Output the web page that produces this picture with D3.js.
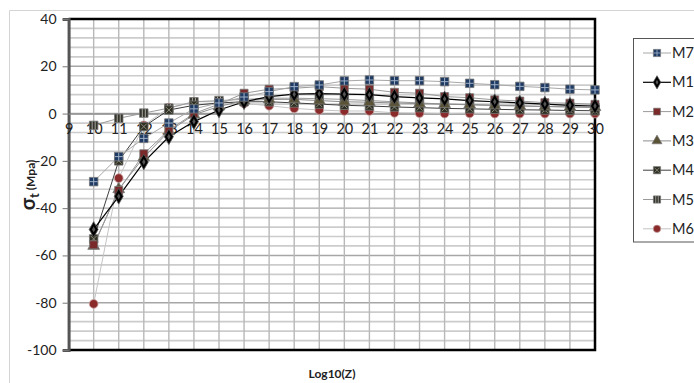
<!DOCTYPE html>
<html>
<head>
<meta charset="utf-8">
<script src="https://cdn.jsdelivr.net/npm/d3@7"></script>
<style>
  html, body { margin: 0; padding: 0; background: #fff; }
  svg { display: block; }
</style>
</head>
<body>
<svg id="chart" width="694" height="383"></svg>
<script>
// Stress σt versus Log10(Z) for seven mixes
const xValues = [10,11,12,13,14,15,16,17,18,19,20,21,22,23,24,25,26,27,28,29,30];
const xTicks = d3.range(9, 31);
const yTicks = [40, 20, 0, -20, -40, -60, -80, -100];

const M7 = [-28.8,-18.2,-10.5,-4,2,4.5,7,9.3,11.4,12.1,13.8,14.2,13.9,13.9,13.5,12.8,12.2,11.5,11,10.3,10];
const M1 = [-49,-35,-20.5,-9.8,-3.4,1.5,5,7.2,8.2,8.4,8.2,8,7.2,6.6,6.2,5.5,5,4.5,4,3.5,3.2];
const M2 = [-55.5,-32.5,-17,-7,0,4,8.6,10.3,10.7,11.4,10.7,10.3,9,8.6,7.2,6.7,5.8,5.3,4.6,4.4,3.9];
const M3 = [-56,-32,-18.5,-7.5,-0.5,3,5.5,6,6,5.5,5,4.8,4.5,4.2,4,3.8,3.5,3.3,3,2.8,2.7];
const M4 = [-53,-20,-5.5,1.5,3.5,4.5,5,5,4.5,4,3.5,3.2,2.8,2.5,2.2,2,1.8,1.6,1.5,1.3,1.2];
const M5 = [-5,-2,0.2,2.3,5,5.5,6,6.5,6.5,6.3,6,5.5,5,4.5,4,3.7,3.4,3.2,3,2.8,2.5];
const M6 = [-80.5,-27.3,-5,2.5,5,5,4.3,3.3,2.2,1.5,1.1,1.1,0.3,0.2,0,0.1,0,0,0,0,0];

const seriesNames = ["M7","M1","M2","M3","M4","M5","M6"];
const seriesValues = [M7, M1, M2, M3, M4, M5, M6];

const styles = {
  M7: { marker: "squareCross", fill: "#1f3b63", line: "#a8a8a8", lw: 1 },
  M1: { marker: "diamond",     fill: "#000000", line: "#000000", lw: 1.2 },
  M2: { marker: "square",      fill: "#7a2a2a", line: "#9a9a9a", lw: 1 },
  M3: { marker: "triangle",    fill: "#5b5336", line: "#8c8c8c", lw: 1 },
  M4: { marker: "squareX",     fill: "#2f2f24", line: "#3f3f3f", lw: 1 },
  M5: { marker: "squareBars",  fill: "#34342c", line: "#9a9a9a", lw: 1 },
  M6: { marker: "circle",      fill: "#8a2a2a", line: "#c4c4c4", lw: 1 }
};

const svg = d3.select("#chart");
const font = "Lato, 'Open Sans', sans-serif";

const L = 68.6, R = 595, T = 19, B = 350;
const x = d3.scaleLinear().domain([9, 30]).range([L, R]);
const y = d3.scaleLinear().domain([-100, 40]).range([B, T]);

// outer chart frame
svg.append("path")
  .attr("d", `M9.5,383 L9.5,10.5 L694,10.5`)
  .attr("fill", "none").attr("stroke", "#d4d4d4").attr("stroke-width", 1);

const plot = svg.append("g");

// minor horizontal grid every 4 units
const minor = d3.range(-100, 40.01, 4).filter(v => v % 20 !== 0);
plot.selectAll(".hminor").data(minor).join("line")
  .attr("x1", L).attr("x2", R)
  .attr("y1", d => y(d)).attr("y2", d => y(d))
  .attr("stroke", "#cccccc").attr("stroke-width", 1.7);

// major horizontal grid
plot.selectAll(".hmajor").data(yTicks).join("line")
  .attr("x1", L).attr("x2", R)
  .attr("y1", d => y(d)).attr("y2", d => y(d))
  .attr("stroke", "#a6a6a6").attr("stroke-width", 1.4);

// vertical grid
plot.selectAll(".vgrid").data(xTicks).join("line")
  .attr("x1", d => x(d)).attr("x2", d => x(d))
  .attr("y1", T).attr("y2", B)
  .attr("stroke", "#b8b8b8").attr("stroke-width", 1.4);

// plot border
plot.append("path")
  .attr("d", `M${L},${T} L${R},${T} L${R},${B} L${L},${B}`)
  .attr("fill", "none").attr("stroke", "#000").attr("stroke-width", 2.5);

// y axis
const yAxis = d3.axisLeft(y).tickValues(yTicks).tickSize(6).tickPadding(6).tickFormat(d3.format("d"));
const gy = svg.append("g").attr("transform", `translate(${L},0)`).call(yAxis);
gy.select(".domain").attr("stroke", "#555").attr("stroke-width", 3);
gy.selectAll(".tick line").attr("stroke", "#777").attr("stroke-width", 1);
gy.selectAll(".tick text").attr("font-family", font).attr("font-size", 14).attr("fill", "#222")
  .text(d => d < 0 ? "-" + Math.abs(d) : d);

// x axis crossing at zero
const xAxis = d3.axisBottom(x).tickValues(xTicks).tickSize(0).tickPadding(10).tickFormat(d3.format("d"));
const gx = svg.append("g").attr("transform", `translate(0,${y(0)})`).call(xAxis);
gx.select(".domain").attr("stroke", "#8c8c8c").attr("stroke-width", 1.2);
gx.selectAll(".tick text").attr("font-family", font).attr("font-size", 14.5).attr("fill", "#222");

// markers
const sym = {
  square: d3.symbol().type(d3.symbolSquare).size(64),
  squareCross: d3.symbol().type(d3.symbolSquare).size(72),
  squareX: d3.symbol().type(d3.symbolSquare).size(72),
  squareBars: d3.symbol().type(d3.symbolSquare).size(72),
  diamond: d3.symbol().type(d3.symbolDiamond).size(70),
  triangle: d3.symbol().type(d3.symbolTriangle).size(60),
  circle: d3.symbol().type(d3.symbolCircle).size(60)
};

function drawMarker(g, name, cx, cy, k = 1) {
  const s = styles[name];
  const m = g.append("g").attr("transform", `translate(${cx},${cy}) scale(${k})`);
  m.append("path").attr("d", sym[s.marker]())
    .attr("fill", s.fill)
    .attr("stroke", s.marker === "circle" ? "#c9a6a6" : (s.marker === "diamond" ? "#555" : "#777"))
    .attr("stroke-width", 0.8);
  if (s.marker === "squareCross") {
    m.append("path").attr("d", "M-4,0 L4,0 M0,-4 L0,4").attr("stroke", "#9fb0c8").attr("stroke-width", 1);
  } else if (s.marker === "squareX") {
    m.append("path").attr("d", "M-3,-3 L3,3 M3,-3 L-3,3").attr("stroke", "#8a8a7a").attr("stroke-width", 1);
  } else if (s.marker === "squareBars") {
    m.append("path").attr("d", "M-1.5,-4 L-1.5,4 M1.5,-4 L1.5,4").attr("stroke", "#a8a8a0").attr("stroke-width", 1);
  } else if (s.marker === "diamond") {
    m.append("path").attr("d", d3.symbol().type(d3.symbolDiamond).size(10)()).attr("fill", "#555");
  }
}

const line = d3.line().x((d, i) => x(xValues[i])).y(d => y(d));
const seriesG = svg.append("g");
// draw in reverse so M7 sits on top
seriesNames.slice().reverse().forEach(name => {
  const vals = seriesValues[seriesNames.indexOf(name)];
  const s = styles[name];
  seriesG.append("path").datum(vals).attr("d", line)
    .attr("fill", "none").attr("stroke", s.line).attr("stroke-width", s.lw);
});
seriesNames.slice().reverse().forEach(name => {
  const vals = seriesValues[seriesNames.indexOf(name)];
  const g = seriesG.append("g");
  vals.forEach((v, i) => drawMarker(g, name, x(xValues[i]), y(v)));
});

// axis titles
svg.append("text").attr("x", 332).attr("y", 378).attr("text-anchor", "middle")
  .attr("font-family", font).attr("font-weight", "bold").attr("font-size", 12).attr("fill", "#222")
  .text("Log10(Z)");

const yt = svg.append("text").attr("transform", "translate(35,185) rotate(-90)")
  .attr("text-anchor", "middle").attr("font-family", font).attr("font-weight", "bold").attr("fill", "#222");
yt.append("tspan").attr("font-size", 20).text("σ");
yt.append("tspan").attr("font-size", 13).attr("dy", 4).text("t");
yt.append("tspan").attr("font-size", 12).attr("dy", -4).text(" (Mpa)");

// legend
const lg = svg.append("g");
lg.append("rect").attr("x", 633.5).attr("y", 38.5).attr("width", 80).attr("height", 203.5)
  .attr("fill", "#fff").attr("stroke", "#555").attr("stroke-width", 1);
seriesNames.forEach((name, i) => {
  const cy = 53 + i * 29.3;
  const s = styles[name];
  lg.append("line").attr("x1", 643).attr("x2", 671).attr("y1", cy).attr("y2", cy)
    .attr("stroke", s.line).attr("stroke-width", s.lw);
  drawMarker(lg, name, 657, cy, 0.85);
  lg.append("text").attr("x", 672).attr("y", cy + 5).attr("font-family", font)
    .attr("font-size", 14.5).attr("fill", "#222").text(name);
});
</script>
</body>
</html>
